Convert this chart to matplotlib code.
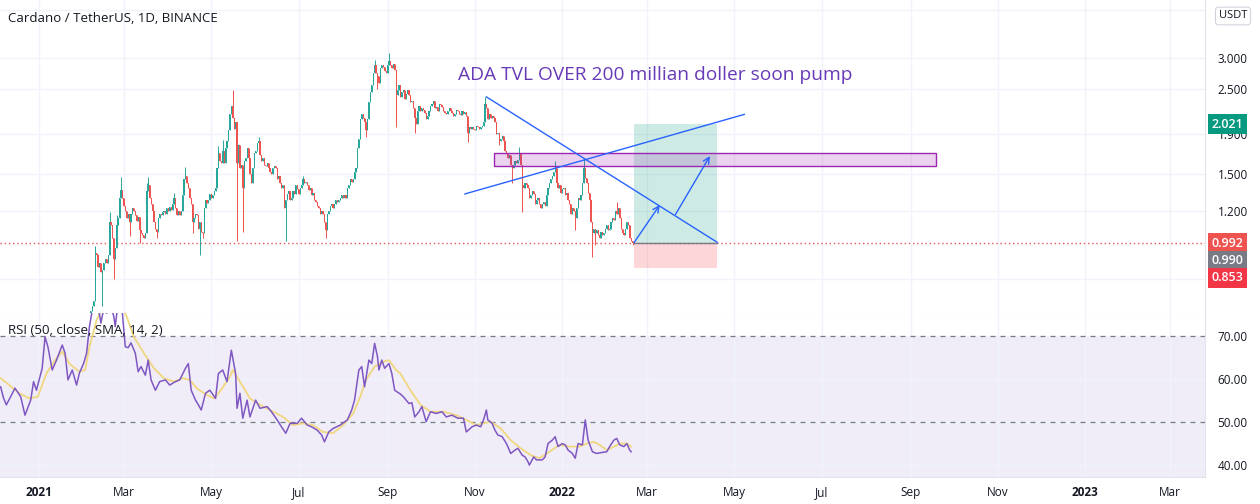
import numpy as np
import pandas as pd
import matplotlib
matplotlib.use("Agg")
import matplotlib.pyplot as plt
import matplotlib.dates as mdates
from matplotlib.patches import Rectangle
from matplotlib.ticker import FixedLocator, NullFormatter, FuncFormatter

plt.rcParams['font.family'] = ['Open Sans', 'DejaVu Sans']

# ADA/USDT daily closes, one list per month
feb21 = [0.55, 0.60, 0.66, 0.68, 0.70, 0.93, 0.92, 0.86, 0.88, 0.83, 0.84, 0.88, 0.90, 0.88,
         0.92, 1.12, 1.10, 1.02, 0.90, 0.96, 1.10, 1.15, 1.30, 1.36, 1.30]
mar21 = [1.24, 1.20, 1.15, 1.18, 1.12, 1.18, 1.22, 1.20, 1.17, 1.13, 1.16, 1.07, 1.05, 1.04,
         1.02, 1.05, 1.35, 1.40, 1.30, 1.25, 1.20, 1.12, 1.08, 1.06, 1.15, 1.18, 1.17, 1.19,
         1.20, 1.18, 1.22]
apr21 = [1.20, 1.23, 1.21, 1.25, 1.30, 1.22, 1.17, 1.20, 1.17, 1.20, 1.32, 1.45, 1.48, 1.42,
         1.38, 1.30, 1.25, 1.12, 1.15, 1.18, 1.17, 1.08, 1.12, 1.06, 1.05, 1.22, 1.28, 1.26,
         1.28, 1.33]
may21 = [1.30, 1.32, 1.35, 1.38, 1.55, 1.70, 1.62, 1.60, 1.72, 1.60, 1.75, 1.82, 1.95, 2.15,
         2.25, 2.10, 1.96, 2.05, 1.60, 1.78, 1.55, 1.58, 1.38, 1.62, 1.65, 1.75, 1.65, 1.50,
         1.42, 1.55, 1.70]
jun21 = [1.72, 1.80, 1.82, 1.68, 1.62, 1.65, 1.58, 1.57, 1.60, 1.55, 1.52, 1.50, 1.55, 1.57,
         1.55, 1.45, 1.48, 1.42, 1.38, 1.40, 1.22, 1.28, 1.33, 1.35, 1.28, 1.30, 1.35, 1.33,
         1.40, 1.37]
jul21 = [1.33, 1.38, 1.40, 1.45, 1.42, 1.43, 1.40, 1.36, 1.38, 1.32, 1.34, 1.28, 1.27, 1.24,
         1.22, 1.18, 1.20, 1.18, 1.12, 1.07, 1.18, 1.20, 1.24, 1.25, 1.22, 1.25, 1.28, 1.27,
         1.28, 1.30, 1.32]
aug21 = [1.30, 1.32, 1.30, 1.38, 1.40, 1.45, 1.43, 1.45, 1.52, 1.55, 1.75, 1.85, 2.08, 2.15,
         2.10, 2.05, 1.95, 2.08, 2.30, 2.45, 2.55, 2.75, 2.88, 2.75, 2.70, 2.58, 2.82, 2.88,
         2.85, 2.78, 2.75]
sep21 = [2.88, 2.95, 2.88, 2.82, 2.90, 2.80, 2.40, 2.48, 2.55, 2.38, 2.45, 2.48, 2.35, 2.42,
         2.48, 2.40, 2.30, 2.32, 2.22, 2.10, 2.02, 2.18, 2.25, 2.18, 2.22, 2.20, 2.16, 2.08,
         2.12, 2.18]
oct21 = [2.25, 2.28, 2.32, 2.22, 2.24, 2.18, 2.28, 2.26, 2.24, 2.18, 2.16, 2.14, 2.18, 2.22,
         2.18, 2.16, 2.12, 2.15, 2.20, 2.18, 2.15, 2.13, 2.18, 2.15, 2.17, 2.12, 1.92, 1.98,
         1.96, 1.98, 1.96]
nov21 = [1.95, 2.00, 1.98, 1.96, 1.98, 2.00, 2.05, 2.28, 2.22, 2.08, 2.15, 2.10, 2.12, 2.10,
         2.05, 1.90, 1.92, 1.82, 1.85, 1.88, 1.82, 1.72, 1.70, 1.65, 1.68, 1.58, 1.55, 1.58,
         1.62, 1.60]
dec21 = [1.63, 1.70, 1.58, 1.40, 1.38, 1.42, 1.40, 1.38, 1.30, 1.32, 1.35, 1.33, 1.25, 1.28,
         1.30, 1.25, 1.22, 1.25, 1.27, 1.24, 1.32, 1.38, 1.42, 1.45, 1.48, 1.52, 1.55, 1.42,
         1.38, 1.40, 1.34]
jan22 = [1.37, 1.38, 1.32, 1.34, 1.28, 1.25, 1.18, 1.22, 1.20, 1.15, 1.22, 1.30, 1.28, 1.32,
         1.42, 1.55, 1.46, 1.42, 1.34, 1.28, 1.12, 1.05, 1.08, 1.05, 1.07, 1.04, 1.02, 1.06,
         1.04, 1.05, 1.08]
feb22 = [1.10, 1.07, 1.08, 1.12, 1.15, 1.14, 1.20, 1.18, 1.22, 1.15, 1.08, 1.05, 1.04, 1.08,
         1.12, 1.10, 1.02, 1.00, 0.992]

month_starts = ['2021-02-04', '2021-03-01', '2021-04-01', '2021-05-01', '2021-06-01',
                '2021-07-01', '2021-08-01', '2021-09-01', '2021-10-01', '2021-11-01',
                '2021-12-01', '2022-01-01', '2022-02-01']
month_closes = [feb21, mar21, apr21, may21, jun21, jul21, aug21, sep21, oct21, nov21,
                dec21, jan22, feb22]

# the long wicks that stand out
wick_hi = {'2021-02-09': 0.97, '2021-02-19': 1.19, '2021-02-24': 1.17, '2021-02-27': 1.47,
           '2021-03-17': 1.42, '2021-03-18': 1.47, '2021-04-05': 1.34, '2021-04-13': 1.56,
           '2021-05-06': 1.77, '2021-05-09': 1.84, '2021-05-16': 2.48, '2021-06-03': 1.87,
           '2021-07-04': 1.48, '2021-08-23': 2.96, '2021-09-02': 3.10, '2021-11-08': 2.38,
           '2021-12-02': 1.76, '2021-12-27': 1.62, '2022-01-16': 1.65, '2022-02-08': 1.27}
wick_lo = {'2021-02-14': 0.68, '2021-02-22': 0.80, '2021-03-05': 1.03, '2021-03-12': 0.99,
           '2021-03-24': 1.02, '2021-04-18': 1.05, '2021-04-23': 0.92, '2021-04-25': 1.02,
           '2021-05-19': 1.00, '2021-05-23': 1.06, '2021-06-22': 1.00, '2021-07-20': 1.02,
           '2021-08-17': 1.87, '2021-08-25': 2.50, '2021-09-07': 1.98, '2021-09-20': 1.92,
           '2021-10-27': 1.81, '2021-11-18': 1.78, '2021-11-27': 1.42, '2021-12-04': 1.19,
           '2022-01-10': 1.07, '2022-01-22': 0.91, '2022-01-24': 0.98, '2022-02-19': 0.98}

# RSI(50) and its SMA(14), days counted from 2021-01-01
rsi_day = [-27, -25, -23, -20, -17, -13, -10, -6, -4, -2, 2, 4, 6, 9, 12, 16, 18, 20, 23, 26,
           28, 31, 33, 35, 38, 41, 43, 45, 47, 50, 52, 53, 55, 57, 60, 62, 64, 67, 69, 71,
           74, 76, 78, 81, 84, 88, 91, 95, 98, 102, 104, 106, 109, 111, 113, 116, 119, 123,
           125, 128, 131, 134, 137, 138, 140, 142, 145, 147, 151, 154, 159, 162, 166, 169,
           172, 175, 180, 183, 187, 190, 194, 197, 199, 202, 205, 210, 215, 218, 220, 223,
           225, 227, 230, 232, 234, 236, 237, 239, 241, 244, 246, 248, 252, 254, 258, 260,
           262, 265, 267, 269, 270, 273, 277, 281, 284, 288, 292, 296, 298, 302, 305, 308,
           310, 312, 313, 316, 318, 320, 323, 326, 329, 332, 334, 337, 339, 341, 342, 345,
           347, 351, 353, 355, 358, 360, 362, 365, 367, 369, 372, 374, 376, 379, 381, 383,
           386, 389, 392, 396, 398, 401, 403, 405, 408, 410, 412, 413]
rsi_val = [58.2, 55.6, 54.0, 55.9, 57.9, 55.9, 51.6, 55.1, 59.4, 57.4, 62.5, 69.8, 67.5, 62.1,
           64.4, 67.9, 66.0, 59.8, 62.1, 58.6, 61.4, 63.7, 66.0, 72.2, 78.0, 77.0, 73.0, 76.5,
           75.3, 77.0, 74.5, 72.2, 78.0, 79.0, 67.5, 67.3, 68.4, 66.0, 61.7, 62.9, 60.9, 64.4,
           59.8, 57.4, 59.4, 59.8, 58.6, 59.4, 59.8, 62.5, 63.6, 57.4, 55.1, 54.0, 52.8, 56.7,
           57.4, 55.5, 61.3, 62.1, 59.4, 66.7, 61.3, 53.2, 56.7, 50.9, 55.1, 51.2, 55.1, 53.2,
           53.6, 52.4, 50.5, 48.9, 47.4, 49.7, 49.7, 50.9, 49.3, 48.9, 48.1, 47.0, 45.4, 47.7,
           48.5, 49.3, 50.5, 52.8, 55.1, 62.1, 62.9, 58.2, 64.4, 63.6, 68.3, 65.2, 62.1, 64.4,
           62.5, 63.6, 61.3, 57.4, 56.5, 55.9, 54.3, 54.5, 51.2, 52.4, 53.6, 51.2, 50.1, 52.4,
           52.0, 52.4, 51.2, 51.6, 50.9, 50.9, 47.7, 48.9, 49.3, 48.9, 50.5, 52.8, 50.5, 49.7,
           48.1, 47.0, 46.6, 45.0, 42.7, 43.5, 43.9, 42.3, 41.9, 40.8, 40.0, 41.9, 41.2, 41.2,
           41.9, 45.0, 45.8, 46.6, 44.3, 45.0, 44.7, 43.5, 42.7, 41.6, 45.0, 44.7, 50.5, 45.8,
           43.1, 42.7, 42.9, 43.1, 44.3, 45.8, 46.2, 44.7, 44.3, 45.0, 43.5, 43.1]
ma_day = [-27, -14, -7, -1, 5, 11, 16, 21, 28, 32, 35, 40, 44, 50, 56, 61, 66, 73, 80, 87, 94,
          100, 105, 110, 117, 122, 126, 133, 135, 140, 147, 154, 161, 170, 177, 184, 191, 198,
          205, 212, 219, 224, 228, 234, 240, 244, 249, 252, 259, 266, 273, 282, 291, 298, 305,
          315, 322, 329, 336, 343, 349, 356, 363, 370, 377, 382, 387, 391, 396, 401, 405, 410,
          413]
ma_val = [60.2, 56.7, 55.5, 55.9, 61.3, 64.4, 66.4, 63.6, 61.7, 62.1, 67.5, 73.7, 76.5, 78.5,
          77.5, 74.5, 69.8, 66.0, 62.5, 60.2, 59.4, 60.2, 59.8, 57.8, 56.3, 55.5, 57.1, 60.5,
          62.1, 59.4, 55.5, 54.0, 52.8, 51.2, 49.3, 49.7, 49.3, 47.7, 47.4, 49.3, 52.0, 55.9,
          59.8, 62.9, 64.0, 64.4, 62.1, 61.3, 57.4, 54.0, 52.4, 52.4, 51.6, 50.5, 49.3, 50.1,
          48.5, 45.8, 43.9, 42.3, 41.6, 43.1, 44.7, 44.3, 44.3, 45.0, 45.4, 44.7, 43.5, 44.3,
          45.0, 45.0, 44.3]

price_ticks = [1.2, 1.5, 1.9, 2.5, 3.0]
price_grid_only = [0.8, 4.0]   # hidden behind the tags / USDT badge
rsi_ticks = [40, 50, 60, 70]
tick_dates = ['2021-01-01', '2021-03-01', '2021-05-01', '2021-07-01', '2021-09-01',
              '2021-11-01', '2022-01-01', '2022-03-01', '2022-05-01', '2022-07-01',
              '2022-09-01', '2022-11-01', '2023-01-01', '2023-03-01']
tick_labels = ['2021', 'Mar', 'May', 'Jul', 'Sep', 'Nov', '2022', 'Mar', 'May', 'Jul', 'Sep',
               'Nov', '2023', 'Mar']

# drawings on the chart
last_price = 0.992
target_price = 2.021
stop_price = 0.853
pos_dates = ['2022-02-20', '2022-04-19']
zone_dates = ['2021-11-14', '2022-09-19']
zone_prices = [1.574, 1.698]
trend1 = (['2021-11-09', '2022-04-19'], [2.378, 0.995])
trend2 = (['2021-10-25', '2022-05-08'], [1.329, 2.141])
arrow1 = (['2022-02-20', '2022-03-10'], [0.992, 1.244])
arrow2 = (['2022-03-21', '2022-04-14'], [1.176, 1.668])
note_date, note_price = '2021-10-20', 2.71
note_text = 'ADA TVL OVER 200 millian doller soon pump'

tags = [('2.021', target_price, '#089981', 0),
        ('0.992', last_price, '#ef5350', -0.7),
        ('0.990', last_price, '#787b86', -13.0),
        ('0.853', stop_price, '#f23645', -7.2)]

# ---- build candles ----
parts = [pd.Series(v, index=pd.date_range(s, periods=len(v), freq='D'))
         for s, v in zip(month_starts, month_closes)]
close = pd.concat(parts)
opn = close.shift(1).fillna(close.iloc[0])
hi = pd.concat([opn, close], axis=1).max(axis=1)
lo = pd.concat([opn, close], axis=1).min(axis=1)
body_lo = lo.copy()
body_hi = hi.copy()
for k, v in wick_hi.items():
    hi[pd.Timestamp(k)] = max(hi[pd.Timestamp(k)], v)
for k, v in wick_lo.items():
    lo[pd.Timestamp(k)] = min(lo[pd.Timestamp(k)], v)

x = mdates.date2num(close.index.to_pydatetime())
col = np.where(close.values >= opn.values, '#26a69a', '#ef5350')

def dn(s):
    return mdates.date2num(pd.Timestamp(s).to_pydatetime())

base = dn('2021-01-01')

W, H = 1260, 504
fig = plt.figure(figsize=(12.6, 5.04), dpi=100)
ax = fig.add_axes([0, 1 - 313 / H, 1205 / W, 313 / H])
axr = fig.add_axes([0, 1 - 476.7 / H, 1205 / W, 163.7 / H], sharex=ax)

grid_c = '#f0f3fa'
line_c = '#e0e3eb'
text_c = '#131722'

# ---- price pane ----
ax.set_yscale('log')
ax.vlines(x, lo.values, hi.values, colors=col, lw=0.7, zorder=3)
ax.bar(x, np.maximum(body_hi.values - body_lo.values, 0.004), bottom=body_lo.values,
       width=0.8, color=col, lw=0, zorder=3)

ax.axhline(last_price, color='#ef5350', lw=1, ls=(0, (1, 2)), zorder=2)

# long position tool
p0, p1 = dn(pos_dates[0]), dn(pos_dates[1])
ax.add_patch(Rectangle((p0, last_price), p1 - p0, target_price - last_price,
                       fc=(8 / 255, 153 / 255, 129 / 255, 0.2), ec='none', zorder=1))
ax.add_patch(Rectangle((p0, stop_price), p1 - p0, last_price - stop_price,
                       fc=(242 / 255, 54 / 255, 69 / 255, 0.2), ec='none', zorder=1))
ax.plot([p0, p1], [last_price, last_price], color='#787b86', lw=1, zorder=2)

# resistance zone
z0, z1 = dn(zone_dates[0]), dn(zone_dates[1])
ax.add_patch(Rectangle((z0, zone_prices[0]), z1 - z0, zone_prices[1] - zone_prices[0],
                       fc=(156 / 255, 39 / 255, 176 / 255, 0.2), ec='#9c27b0', lw=1, zorder=4))

blue = '#2962ff'
for dates, prices in (trend1, trend2):
    ax.plot([dn(d) for d in dates], prices, color=blue, lw=1, zorder=5)
for dates, prices in (arrow1, arrow2):
    ax.annotate('', xy=(dn(dates[1]), prices[1]), xytext=(dn(dates[0]), prices[0]),
                arrowprops=dict(arrowstyle='->', color=blue, lw=1, shrinkA=0, shrinkB=0,
                                mutation_scale=11), zorder=5)

ax.text(dn(note_date), note_price, note_text, color='#673ab7', fontsize=13.8,
        ha='left', va='center', zorder=6)

ax.set_ylim(0.651, 4.25)
ax.yaxis.set_major_locator(FixedLocator(price_ticks))
ax.yaxis.set_minor_locator(FixedLocator(price_grid_only))
ax.yaxis.set_minor_formatter(NullFormatter())
ax.yaxis.set_major_formatter(FuncFormatter(lambda v, p: f'{v:.3f}'))
ax.yaxis.tick_right()
ax.tick_params(axis='y', which='both', length=0, pad=9, labelsize=8.5, labelcolor=text_c)
ax.tick_params(axis='x', length=0, labelbottom=False)

for t, price, c, off in tags:
    ax.annotate(t, xy=(1, price), xycoords=('axes fraction', 'data'),
                xytext=(4.5, off), textcoords='offset points', ha='left', va='center',
                color='white', fontsize=9, fontweight='semibold', annotation_clip=False,
                zorder=10, bbox=dict(boxstyle='square,pad=0.3', fc=c, ec='none'))

# ---- RSI pane ----
axr.axhspan(30, 70, color='#7e57c2', alpha=0.1, lw=0, zorder=0)
axr.axhline(70, color='#787b86', lw=0.9, ls=(0, (4, 4)), zorder=1)
axr.axhline(50, color='#787b86', lw=0.9, ls=(0, (4, 4)), zorder=1)
axr.plot(base + np.array(ma_day), ma_val, color='#f0d77f', lw=1.3, zorder=2)
axr.plot(base + np.array(rsi_day), rsi_val, color='#7e57c2', lw=1.1, zorder=3)
axr.set_ylim(37.3, 75.35)
axr.yaxis.set_major_locator(FixedLocator(rsi_ticks))
axr.yaxis.set_major_formatter(FuncFormatter(lambda v, p: f'{v:.2f}'))
axr.yaxis.tick_right()
axr.tick_params(axis='y', length=0, pad=9, labelsize=8.5, labelcolor=text_c)

axr.set_xlim(base - 27.43, base + 813.5)
axr.set_xticks([dn(d) for d in tick_dates])
axr.set_xticklabels(tick_labels)
axr.tick_params(axis='x', length=0, pad=7, labelsize=8.5, labelcolor=text_c)
for lab in axr.get_xticklabels():
    if lab.get_text().isdigit():
        lab.set_fontweight('bold')

for a in (ax, axr):
    a.set_axisbelow(True)
    a.grid(True, which='both', color=grid_c, lw=1, zorder=0)
    for s in ('top', 'left'):
        a.spines[s].set_visible(False)
    a.spines['right'].set_color(line_c)
    a.spines['bottom'].set_color(line_c)

fig.text(8 / W, 1 - 18 / H, 'Cardano / TetherUS, 1D, BINANCE', fontsize=9.5, color=text_c,
         va='center', ha='left')
fig.text(8 / W, 1 - 330 / H, 'RSI (50, close, SMA, 14, 2)', fontsize=9.5, color=text_c,
         va='center', ha='left')
fig.text(1233 / W, 1 - 16 / H, 'USDT', fontsize=8, color=text_c, va='center', ha='center',
         bbox=dict(boxstyle='round,pad=0.3', fc='white', ec='#d1d4dc', lw=0.8))

fig.savefig('out.png', dpi=100)
